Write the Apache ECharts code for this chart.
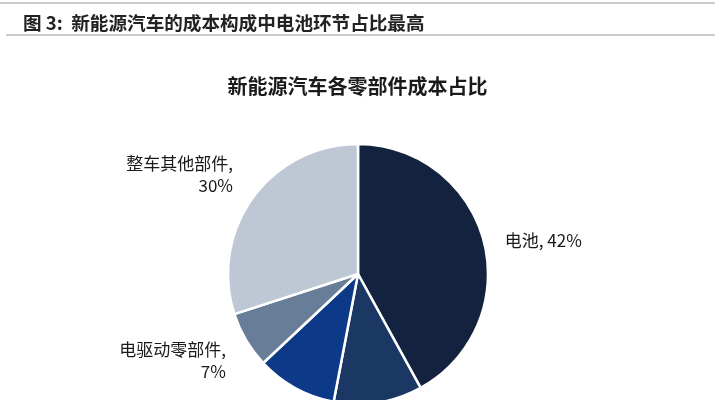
<!DOCTYPE html>
<html><head><meta charset="utf-8">
<script src="https://cdn.jsdelivr.net/npm/echarts@6/dist/echarts.min.js"></script>
<style>html,body{margin:0;padding:0;background:#fff}#c{width:715px;height:400px}</style>
</head><body><div id="c"></div>
<script>
const categories = ['电池', '电机', '电控', '电驱动零部件', '整车其他部件'];
const values = [42, 11, 10, 7, 30];
const colors = ['#13233f', '#1b3764', '#0c3a88', '#687d97', '#bec8d5'];
const showLabel = [true, false, false, true, true];

const labelShift = { 0: 0, 3: 17, 4: -20 };

const chart = echarts.init(document.getElementById('c'));
chart.setOption({
  backgroundColor: '#ffffff',
  animation: false,
  title: [
    { text: '图 3:  新能源汽车的成本构成中电池环节占比最高', left: 18, top: 9,
      textStyle: { fontFamily: 'Noto Sans CJK SC', fontSize: 18.6, fontWeight: 'bold', color: '#222' } },
    { text: '新能源汽车各零部件成本占比', left: 'center', top: 71,
      textStyle: { fontFamily: 'Noto Sans CJK SC', fontSize: 20, fontWeight: 'bold', color: '#1a1a1a' } }
  ],
  graphic: [
    { type: 'line', shape: { x1: 0, y1: 3, x2: 715, y2: 3 }, style: { stroke: '#999', lineWidth: 1 } },
    { type: 'line', shape: { x1: 6, y1: 35, x2: 715, y2: 35 }, style: { stroke: '#999', lineWidth: 1 } }
  ],
  series: [{
    type: 'pie',
    center: [358, 274],
    radius: 130,
    startAngle: 90,
    clockwise: true,
    itemStyle: { borderColor: '#ffffff', borderWidth: 2.5 },
    label: {
      show: true, position: 'outside',
      fontFamily: 'Noto Sans CJK SC', fontSize: 17, color: '#1a1a1a', lineHeight: 22,
      formatter: p => p.dataIndex === 0 ? p.name + ', ' + p.value + '%' : p.name + ',\n' + p.value + '%',
      align: 'center'
    },
    labelLine: { show: false, length: 6, length2: 10 },
    labelLayout: p => ({ dy: labelShift[p.dataIndex] || 0 }),
    data: categories.map((n, i) => ({
      name: n, value: values[i],
      itemStyle: { color: colors[i] },
      label: { show: showLabel[i] }
    }))
  }]
});
</script></body></html>
